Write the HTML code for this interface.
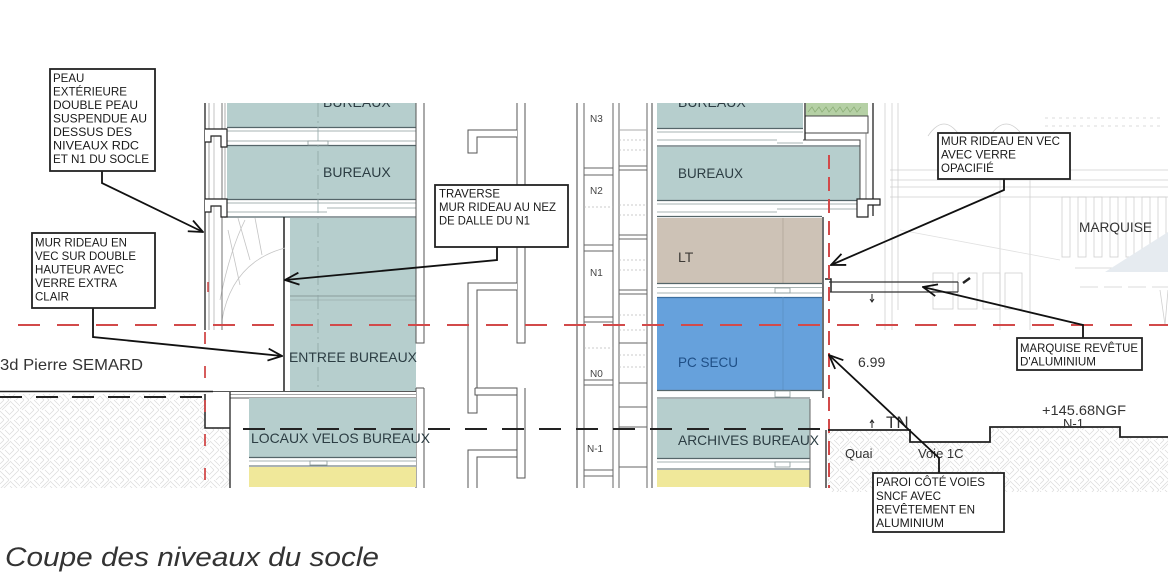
<!DOCTYPE html>
<html><head><meta charset="utf-8"><style>
html,body{margin:0;padding:0;background:#fff;}
svg{display:block;}
text{font-family:"Liberation Sans",Arial,sans-serif;}
</style></head><body>
<svg width="1168" height="581" viewBox="0 0 1168 581" xmlns="http://www.w3.org/2000/svg">
<defs>
<marker id="ah" viewBox="0 0 16 14" refX="15" refY="7" markerWidth="16" markerHeight="14" markerUnits="userSpaceOnUse" orient="auto"><path d="M1,1 L15,7 L1,13" fill="none" stroke="#111" stroke-width="1.8"/></marker>
<pattern id="hatch" width="20" height="20" patternUnits="userSpaceOnUse">
<path d="M0,4 L4,0 M0,9 L9,0 M2,10 L10,2 M10,1 L19,10 M10,6 L14,10 M14,0 L20,6 M0,11 L9,20 M0,16 L4,20 M5,10 L10,15 M10,19 L19,10 M10,14 L14,10 M16,20 L20,16" stroke="#dadada" stroke-width="0.7" fill="none"/>
</pattern>
<clipPath id="clipTop"><rect x="0" y="103" width="1168" height="478"/></clipPath>
</defs>

<!-- hatched ground -->
<polygon points="0,394 205,394 205,428 230,428 230,488 0,488" fill="url(#hatch)"/>
<polygon points="828,430 910,430 910,442 990,442 990,427 1120,427 1120,437 1168,437 1168,492 828,492" fill="url(#hatch)"/>

<!-- right background elevation (faint) -->
<g stroke="#cfcfcf" stroke-width="0.8" fill="none">
<line x1="885" y1="103" x2="885" y2="330"/>
<line x1="892" y1="103" x2="892" y2="330"/>
<line x1="898" y1="103" x2="898" y2="310"/>
<line x1="890" y1="170" x2="1168" y2="170"/>
<line x1="890" y1="180" x2="1168" y2="180"/>
<line x1="890" y1="187" x2="1168" y2="187"/>
<line x1="890" y1="197" x2="1168" y2="197"/>
<path d="M928,136 Q944,112 960,136"/>
<path d="M990,136 Q1006,112 1023,136"/>
<rect x="1062" y="197" width="8" height="60"/>
<rect x="1078" y="197" width="8" height="60"/>
<rect x="1094" y="197" width="8" height="60"/>
<rect x="1110" y="197" width="8" height="60"/>
<rect x="1126" y="197" width="8" height="60"/>
<rect x="1142" y="197" width="8" height="60"/>
<rect x="1158" y="197" width="8" height="60"/>
<rect x="933" y="273" width="20" height="36"/>
<rect x="958" y="273" width="19" height="36"/>
<rect x="983" y="273" width="17" height="36"/>
<rect x="1005" y="273" width="17" height="36"/>
<line x1="1080" y1="287" x2="1168" y2="287" stroke-dasharray="18 6"/>
<line x1="1075" y1="268" x2="1168" y2="268"/>
<line x1="1000" y1="140" x2="1000" y2="330"/>
<line x1="1030" y1="140" x2="1030" y2="330"/>
<path d="M1160,290 L1165,325 L1168,290"/>
<line x1="1045" y1="118" x2="1160" y2="118" stroke-dasharray="3 4"/>
<line x1="1045" y1="126" x2="1160" y2="126" stroke-dasharray="3 4"/>
<line x1="900" y1="230" x2="1060" y2="260" stroke="#e0e0e0"/>
</g>
<polygon points="1105,272 1168,232 1168,272" fill="#e6ebf0"/>

<g clip-path="url(#clipTop)">
<!-- ===== LEFT BUILDING ===== -->
<rect x="227" y="100" width="189" height="100" fill="#b6cecd"/>
<text x="323" y="107" font-size="14" fill="#2c3d43">BUREAUX</text>
<!-- slab 1 -->
<rect x="227" y="127" width="189" height="19" fill="#fff"/>
<line x1="227" y1="127.5" x2="416" y2="127.5" stroke="#55666a" stroke-width="1.2"/>
<line x1="227" y1="131" x2="416" y2="131" stroke="#8a9a9a" stroke-width="0.8"/>
<line x1="227" y1="141" x2="416" y2="141" stroke="#8a9a9a" stroke-width="0.8"/>
<line x1="227" y1="145.5" x2="416" y2="145.5" stroke="#55666a" stroke-width="1.2"/>
<rect x="308" y="141" width="20" height="4" fill="#fff" stroke="#8a9a9a" stroke-width="0.8"/>
<text x="323" y="177" font-size="14" fill="#2c3d43">BUREAUX</text>
<!-- slab 2 -->
<rect x="227" y="199" width="189" height="19" fill="#fff"/>
<line x1="227" y1="199.5" x2="416" y2="199.5" stroke="#55666a" stroke-width="1.2"/>
<line x1="227" y1="203" x2="416" y2="203" stroke="#8a9a9a" stroke-width="0.8"/>
<line x1="227" y1="212" x2="327" y2="212" stroke="#8a9a9a" stroke-width="0.8"/>
<line x1="327" y1="208" x2="416" y2="208" stroke="#8a9a9a" stroke-width="0.8"/>
<line x1="227" y1="217" x2="416" y2="217" stroke="#55666a" stroke-width="1.2"/>
<!-- lower teal -->
<rect x="290" y="218" width="126" height="173" fill="#b6cecd"/>
<line x1="290" y1="296" x2="416" y2="296" stroke="#8a9c9c" stroke-width="1"/>
<line x1="290" y1="300" x2="416" y2="300" stroke="#9aacac" stroke-width="0.8"/>
<line x1="318" y1="103" x2="318" y2="391" stroke="#8fa5a5" stroke-width="0.8" stroke-dasharray="14 4 2 4"/>
<line x1="284" y1="217" x2="284" y2="392" stroke="#222" stroke-width="1.5"/>
<!-- sketch curves in atrium -->
<g stroke="#c4c4c4" stroke-width="0.8" fill="none">
<path d="M222,320 Q232,262 285,248"/>
<path d="M220,300 Q230,250 245,220"/>
<path d="M238,218 L250,260"/>
<path d="M255,218 L262,255"/>
<path d="M228,230 L240,285"/>
</g>
<!-- facade left -->
<line x1="205" y1="103" x2="205" y2="330" stroke="#222" stroke-width="1.3"/>
<line x1="209" y1="103" x2="209" y2="330" stroke="#888" stroke-width="0.8"/>
<line x1="214" y1="103" x2="214" y2="330" stroke="#aaa" stroke-width="0.7"/>
<line x1="222" y1="103" x2="222" y2="330" stroke="#666" stroke-width="0.9"/>
<line x1="225" y1="103" x2="225" y2="218" stroke="#888" stroke-width="0.7"/>
<path d="M205,129 L227,129 L227,147 L221,147 L221,136 L211,136 L211,142 L205,142" fill="#fff" stroke="#222" stroke-width="1.2"/>
<path d="M205,199 L227,199 L227,217 L221,217 L221,206 L211,206 L211,212 L205,212" fill="#fff" stroke="#222" stroke-width="1.2"/>
<line x1="208" y1="282" x2="208" y2="292" stroke="#c44" stroke-width="1.5"/>
<!-- right edge double -->
<path d="M416,103 L416,343 L424,343 L424,103" fill="none" stroke="#555" stroke-width="1"/>
<path d="M416,388 L416,488 M424,388 L424,488 M416,388 L424,388" fill="none" stroke="#555" stroke-width="1"/>
<!-- ground floor slab -->
<rect x="215" y="391" width="201" height="7" fill="#fff"/>
<line x1="0" y1="391.5" x2="213" y2="391.5" stroke="#222" stroke-width="1.5"/>
<line x1="213" y1="391.5" x2="416" y2="391.5" stroke="#555" stroke-width="1"/>
<line x1="230" y1="394.5" x2="416" y2="394.5" stroke="#888" stroke-width="0.8"/>
<line x1="230" y1="398" x2="416" y2="398" stroke="#555" stroke-width="1"/>
<polyline points="205,394 205,428 230,428" fill="none" stroke="#222" stroke-width="1.5"/>
<line x1="230" y1="392" x2="230" y2="488" stroke="#222" stroke-width="1.3"/>
<rect x="249" y="398" width="167" height="59" fill="#b6cecd"/>
<rect x="249" y="457" width="167" height="10" fill="#fff"/>
<line x1="249" y1="457.5" x2="416" y2="457.5" stroke="#55666a" stroke-width="1.2"/>
<line x1="249" y1="461" x2="416" y2="461" stroke="#8a9a9a" stroke-width="0.8"/>
<rect x="310" y="461" width="17" height="4" fill="#fff" stroke="#8a9a9a" stroke-width="0.8"/>
<line x1="249" y1="466" x2="416" y2="466" stroke="#55666a" stroke-width="1"/>
<rect x="249" y="467" width="167" height="20" fill="#f0e89a"/>
<text x="289" y="362" font-size="14" fill="#2c3d43" textLength="128" lengthAdjust="spacingAndGlyphs">ENTREE BUREAUX</text>
<text x="251" y="443" font-size="14" fill="#2c3d43" textLength="179" lengthAdjust="spacingAndGlyphs">LOCAUX VELOS BUREAUX</text>

<!-- ===== MIDDLE STAIRS ===== -->
<g fill="#fff" stroke="#555" stroke-width="1">
<path d="M517,103 L517,343 L525,343 L525,103"/>
<path d="M517,137 L477,137 L477,153 L468,153 L468,130 L517,130"/>
<path d="M517,290 L477,290 L477,413 L468,413 L468,283 L517,283"/>
<path d="M475,388 L517,388 L517,478 L525,478 L525,388 M475,388 L475,395 L517,395"/>
<path d="M517,457 L477,457 L477,488 M468,488 L468,450 L517,450"/>
</g>

<!-- ===== LEVEL COLUMN ===== -->
<g stroke="#666" stroke-width="1" fill="none">
<line x1="577" y1="103" x2="577" y2="488" stroke="#444"/>
<line x1="584" y1="103" x2="584" y2="488"/>
<line x1="613" y1="103" x2="613" y2="488"/>
<line x1="619" y1="103" x2="619" y2="488"/>
<line x1="647" y1="103" x2="647" y2="488"/>
<line x1="652" y1="103" x2="652" y2="488" stroke="#444"/>
<line x1="584" y1="168" x2="613" y2="168"/><line x1="584" y1="175" x2="613" y2="175"/>
<line x1="584" y1="245" x2="613" y2="245"/><line x1="584" y1="251" x2="613" y2="251"/>
<line x1="584" y1="317" x2="613" y2="317"/><line x1="584" y1="322" x2="613" y2="322"/>
<line x1="584" y1="380" x2="613" y2="380"/><line x1="584" y1="385" x2="613" y2="385"/>
<line x1="584" y1="470" x2="613" y2="470"/><line x1="584" y1="476" x2="613" y2="476"/>
<line x1="619" y1="130" x2="647" y2="130" stroke="#aaa"/>
<line x1="619" y1="166" x2="647" y2="166"/><line x1="619" y1="170" x2="647" y2="170"/>
<line x1="619" y1="235" x2="647" y2="235"/><line x1="619" y1="239" x2="647" y2="239"/>
<line x1="619" y1="290" x2="647" y2="290"/><line x1="619" y1="294" x2="647" y2="294"/>
<line x1="619" y1="343" x2="647" y2="343"/>
<line x1="619" y1="383" x2="647" y2="383"/>
<line x1="619" y1="407" x2="647" y2="407"/>
<line x1="619" y1="427" x2="647" y2="427"/>
<line x1="619" y1="467" x2="647" y2="467"/>
</g>
<g stroke="#bbb" stroke-width="0.7" stroke-dasharray="2 2">
<line x1="619" y1="140" x2="647" y2="140"/><line x1="619" y1="150" x2="647" y2="150"/>
<line x1="619" y1="205" x2="647" y2="205"/><line x1="619" y1="215" x2="647" y2="215"/>
<line x1="619" y1="260" x2="647" y2="260"/><line x1="619" y1="270" x2="647" y2="270"/>
<line x1="619" y1="315" x2="647" y2="315"/><line x1="619" y1="330" x2="647" y2="330"/>
<line x1="619" y1="355" x2="647" y2="355"/><line x1="619" y1="367" x2="647" y2="367"/>
<line x1="584" y1="207" x2="613" y2="207"/><line x1="584" y1="348" x2="613" y2="348"/>
</g>
<g font-size="10" fill="#444">
<text x="590" y="122">N3</text>
<text x="590" y="194">N2</text>
<text x="590" y="276">N1</text>
<text x="590" y="377">N0</text>
<text x="587" y="452">N-1</text>
</g>

<!-- ===== RIGHT BUILDING ===== -->
<rect x="657" y="100" width="146" height="28" fill="#b6cecd"/>
<text x="678" y="107" font-size="14" fill="#2c3d43">BUREAUX</text>
<rect x="657" y="128" width="146" height="18" fill="#fff"/>
<line x1="657" y1="128.5" x2="803" y2="128.5" stroke="#55666a" stroke-width="1.2"/>
<line x1="657" y1="132" x2="803" y2="132" stroke="#8a9a9a" stroke-width="0.8"/>
<line x1="657" y1="140" x2="777" y2="140" stroke="#8a9a9a" stroke-width="0.8"/>
<line x1="777" y1="143" x2="803" y2="143" stroke="#8a9a9a" stroke-width="0.8"/>
<line x1="657" y1="146" x2="860" y2="146" stroke="#55666a" stroke-width="1.2"/>
<!-- planter -->
<rect x="806" y="103" width="62" height="13" fill="#b5d0a5"/>
<path d="M808,112 l4,-5 l3,5 l4,-5 l3,5 l4,-5 l3,5 l4,-5 l3,5 l4,-5 l3,5 l4,-5 l3,5 l4,-5 l3,5 l4,-5" fill="none" stroke="#8fb07a" stroke-width="0.8"/>
<rect x="805" y="116" width="63" height="17" fill="#fff" stroke="#444" stroke-width="1"/>
<line x1="805" y1="103" x2="805" y2="140" stroke="#222" stroke-width="1.3"/>
<path d="M803,140 L860,140 L860,146" fill="none" stroke="#444" stroke-width="1"/>
<line x1="873" y1="103" x2="873" y2="216" stroke="#222" stroke-width="1.3"/>
<line x1="866" y1="133" x2="866" y2="200" stroke="#777" stroke-width="0.8"/>
<rect x="657" y="147" width="203" height="53" fill="#b6cecd"/>
<line x1="860" y1="146" x2="860" y2="200" stroke="#444" stroke-width="1"/>
<text x="678" y="178" font-size="14" fill="#2c3d43" textLength="65" lengthAdjust="spacingAndGlyphs">BUREAUX</text>
<!-- slab -->
<rect x="657" y="200" width="203" height="17" fill="#fff"/>
<line x1="657" y1="200.5" x2="860" y2="200.5" stroke="#55666a" stroke-width="1.2"/>
<line x1="657" y1="204" x2="860" y2="204" stroke="#8a9a9a" stroke-width="0.8"/>
<line x1="657" y1="212" x2="777" y2="212" stroke="#8a9a9a" stroke-width="0.8"/>
<line x1="777" y1="209" x2="860" y2="209" stroke="#8a9a9a" stroke-width="0.8"/>
<line x1="657" y1="216.5" x2="822" y2="216.5" stroke="#55666a" stroke-width="1.2"/>
<path d="M857,199 L880,199 L880,205 L868,205 L868,217 L857,217 Z" fill="#fff" stroke="#222" stroke-width="1.2"/>
<!-- LT -->
<rect x="657" y="218" width="165" height="65" fill="#cdc2b6"/>
<line x1="783" y1="218" x2="783" y2="283" stroke="#b0a69a" stroke-width="0.8"/>
<text x="678" y="262" font-size="14" fill="#3e3a36">LT</text>
<rect x="657" y="283" width="165" height="14" fill="#fff"/>
<line x1="657" y1="283.5" x2="822" y2="283.5" stroke="#55666a" stroke-width="1.2"/>
<line x1="657" y1="287.5" x2="822" y2="287.5" stroke="#8a9a9a" stroke-width="0.8"/>
<rect x="775" y="288" width="15" height="5" fill="#fff" stroke="#8a9a9a" stroke-width="0.8"/>
<line x1="657" y1="293" x2="822" y2="293" stroke="#8a9a9a" stroke-width="0.8"/>
<!-- PC SECU -->
<rect x="657" y="297" width="165" height="93" fill="#66a1dc"/>
<line x1="657" y1="297.5" x2="822" y2="297.5" stroke="#3d6f9f" stroke-width="1.2"/>
<line x1="783" y1="297" x2="783" y2="390" stroke="#5a8fc4" stroke-width="0.8"/>
<text x="678" y="367" font-size="14" fill="#1f4f86" textLength="60" lengthAdjust="spacingAndGlyphs">PC SECU</text>
<rect x="657" y="390" width="165" height="9" fill="#fff"/>
<line x1="657" y1="390.5" x2="822" y2="390.5" stroke="#55666a" stroke-width="1.2"/>
<rect x="775" y="391" width="15" height="6" fill="#fff" stroke="#8a9a9a" stroke-width="0.8"/>
<line x1="657" y1="398" x2="810" y2="398" stroke="#55666a" stroke-width="1"/>
<!-- ARCHIVES -->
<rect x="657" y="399" width="153" height="59" fill="#b6cecd"/>
<rect x="657" y="458" width="153" height="11" fill="#fff"/>
<line x1="657" y1="458.5" x2="810" y2="458.5" stroke="#55666a" stroke-width="1.2"/>
<line x1="657" y1="462" x2="810" y2="462" stroke="#8a9a9a" stroke-width="0.8"/>
<rect x="775" y="462" width="15" height="5" fill="#fff" stroke="#8a9a9a" stroke-width="0.8"/>
<line x1="657" y1="469" x2="810" y2="469" stroke="#55666a" stroke-width="1"/>
<rect x="657" y="470" width="153" height="17" fill="#f0e89a"/>
<line x1="810" y1="399" x2="810" y2="488" stroke="#666" stroke-width="1"/>
<text x="678" y="445" font-size="14" fill="#2c3d43" textLength="141" lengthAdjust="spacingAndGlyphs">ARCHIVES BUREAUX</text>
<!-- wall lines -->
<line x1="823" y1="217" x2="823" y2="398" stroke="#222" stroke-width="1.3"/>
<line x1="826" y1="430" x2="826" y2="488" stroke="#222" stroke-width="1.3"/>
<path d="M825,279 L831,279 L831,292" fill="none" stroke="#222" stroke-width="1.5"/>
<!-- marquise -->
<line x1="829" y1="282" x2="958" y2="282" stroke="#333" stroke-width="1.2"/>
<line x1="829" y1="292" x2="958" y2="292" stroke="#333" stroke-width="1.2"/>
<line x1="958" y1="282" x2="958" y2="292" stroke="#333" stroke-width="1"/>
<path d="M963,283 L970,278" stroke="#222" stroke-width="2.5"/>
<!-- dimension ticks -->
<path d="M872,294 L872,302 M870,299 L872,302 L874,299" stroke="#222" stroke-width="1" fill="none"/>
<path d="M872,428 L872,420 M870,423 L872,420 L874,423" stroke="#222" stroke-width="1" fill="none"/>
<!-- red dashed vertical right -->
<line x1="829" y1="155" x2="829" y2="488" stroke="#d24a4a" stroke-width="2" stroke-dasharray="14 8"/>
</g>

<!-- red dashed vertical left -->
<line x1="205" y1="332" x2="205" y2="488" stroke="#d24a4a" stroke-width="1.8" stroke-dasharray="12 22"/>

<!-- red dashed horizontal -->
<line x1="18" y1="325" x2="1168" y2="325" stroke="#d24a4a" stroke-width="2" stroke-dasharray="22 17"/>
<!-- black dashed -->
<line x1="0" y1="397" x2="205" y2="397" stroke="#222" stroke-width="2" stroke-dasharray="22 14"/>
<line x1="243" y1="429" x2="828" y2="429" stroke="#222" stroke-width="2" stroke-dasharray="22 15"/>

<!-- right ground line -->
<polyline points="828,430 910,430 910,442 990,442 990,427 1120,427 1120,437 1168,437" fill="none" stroke="#222" stroke-width="1.8"/>

<!-- right texts -->
<text x="1079" y="232" font-size="14" fill="#333" textLength="73" lengthAdjust="spacingAndGlyphs">MARQUISE</text>
<text x="858" y="367" font-size="14" fill="#333">6.99</text>
<text x="886" y="428" font-size="17" fill="#333">TN</text>
<text x="1042" y="415" font-size="14" fill="#333" textLength="84" lengthAdjust="spacingAndGlyphs">+145.68NGF</text>
<text x="1063" y="428" font-size="13" fill="#333">N-1</text>
<text x="845" y="458" font-size="13" fill="#333">Quai</text>
<text x="918" y="458" font-size="13" fill="#333">Voie 1C</text>

<!-- street label -->
<text x="0" y="370" font-size="16" fill="#333" textLength="143" lengthAdjust="spacingAndGlyphs">3d Pierre SEMARD</text>

<!-- ===== CALLOUTS ===== -->
<g fill="none" stroke="#111" stroke-width="1.8">
<polyline points="102,171 102,183 203,232" marker-end="url(#ah)"/>
<polyline points="93,308 93,337 282,356" marker-end="url(#ah)"/>
<polyline points="497,247 497,260 285,280" marker-end="url(#ah)"/>
<polyline points="1004,179 1004,190 831,265" marker-end="url(#ah)"/>
<polyline points="1083,338 1083,325 923,287" marker-end="url(#ah)"/>
<polyline points="939,473 939,458 829,355" marker-end="url(#ah)"/>
</g>

<g fill="#fff" stroke="#222" stroke-width="1.8">
<rect x="50" y="69" width="105" height="102"/>
<rect x="32" y="233" width="123" height="75"/>
<rect x="435" y="185" width="133" height="62"/>
<rect x="938" y="133" width="132" height="46"/>
<rect x="1017" y="338" width="125" height="32"/>
<rect x="873" y="473" width="131" height="59"/>
</g>

<g font-size="11.5" fill="#1a1a1a">
<text x="53" y="82">PEAU</text>
<text x="53" y="95.5" textLength="74" lengthAdjust="spacingAndGlyphs">EXTÉRIEURE</text>
<text x="53" y="109" textLength="85" lengthAdjust="spacingAndGlyphs">DOUBLE PEAU</text>
<text x="53" y="122.5" textLength="94" lengthAdjust="spacingAndGlyphs">SUSPENDUE AU</text>
<text x="53" y="136" textLength="79" lengthAdjust="spacingAndGlyphs">DESSUS DES</text>
<text x="53" y="149.5" textLength="86" lengthAdjust="spacingAndGlyphs">NIVEAUX RDC</text>
<text x="53" y="163" textLength="96" lengthAdjust="spacingAndGlyphs">ET N1 DU SOCLE</text>

<text x="35" y="246.5" textLength="92" lengthAdjust="spacingAndGlyphs">MUR RIDEAU EN</text>
<text x="35" y="260" textLength="101" lengthAdjust="spacingAndGlyphs">VEC SUR DOUBLE</text>
<text x="35" y="273.5" textLength="89" lengthAdjust="spacingAndGlyphs">HAUTEUR AVEC</text>
<text x="35" y="287" textLength="82" lengthAdjust="spacingAndGlyphs">VERRE EXTRA</text>
<text x="35" y="300.5">CLAIR</text>

<text x="439" y="197.5" textLength="61" lengthAdjust="spacingAndGlyphs">TRAVERSE</text>
<text x="439" y="211" textLength="117" lengthAdjust="spacingAndGlyphs">MUR RIDEAU AU NEZ</text>
<text x="439" y="224.5" textLength="91" lengthAdjust="spacingAndGlyphs">DE DALLE DU N1</text>

<text x="941" y="145" textLength="119" lengthAdjust="spacingAndGlyphs">MUR RIDEAU EN VEC</text>
<text x="941" y="158.5" textLength="75" lengthAdjust="spacingAndGlyphs">AVEC VERRE</text>
<text x="941" y="172">OPACIFIÉ</text>

<text x="1020" y="352" textLength="118" lengthAdjust="spacingAndGlyphs">MARQUISE REVÊTUE</text>
<text x="1020" y="365.5" textLength="76" lengthAdjust="spacingAndGlyphs">D'ALUMINIUM</text>

<text x="876" y="486" textLength="109" lengthAdjust="spacingAndGlyphs">PAROI CÔTÉ VOIES</text>
<text x="876" y="500" textLength="65" lengthAdjust="spacingAndGlyphs">SNCF AVEC</text>
<text x="876" y="513.5" textLength="99" lengthAdjust="spacingAndGlyphs">REVÊTEMENT EN</text>
<text x="876" y="527" textLength="68" lengthAdjust="spacingAndGlyphs">ALUMINIUM</text>
</g>

<!-- caption -->
<text x="5" y="566" font-size="27" font-style="italic" fill="#333" textLength="374" lengthAdjust="spacingAndGlyphs">Coupe des niveaux du socle</text>
</svg>
</body></html>
